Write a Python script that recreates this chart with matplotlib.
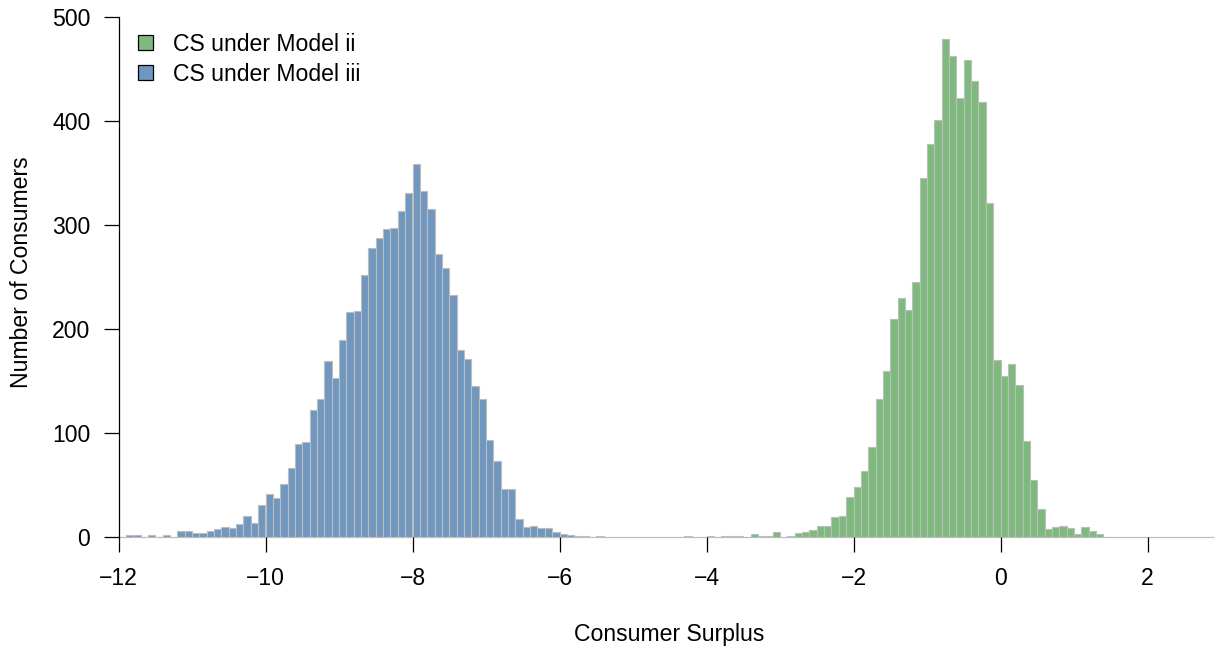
import numpy as np
import matplotlib.pyplot as plt
from matplotlib.patches import Patch

plt.rcParams['font.family'] = ['Liberation Sans', 'DejaVu Sans']
plt.rcParams['font.size'] = 16.6

# histogram grid: 0.1 wide bins from -12.0 to 2.9
bin_start = -12.0
bin_width = 0.1
n_bins = 149

# consumer counts per bin, model iii starts at -12.0
cs_model3_start = -12.0
cs_model3 = [0, 2, 2, 0, 2, 0, 2, 0, 6, 6, 4, 4, 6, 8, 10, 9, 12, 20, 13, 31,
             41, 37, 51, 66, 89, 91, 122, 133, 169, 153, 189, 216, 217, 252, 278, 287, 296, 297, 313, 330,
             358, 332, 315, 272, 258, 232, 180, 171, 145, 133, 93, 73, 46, 46, 17, 10, 11, 9, 9, 5,
             3, 2, 1, 1, 0, 1]

# model ii starts at -4.3
cs_model2_start = -4.3
cs_model2 = [1, 0, 0, 1, 0, 1, 1, 1, 0, 3, 1, 1, 5, 0, 1, 4, 5, 7, 11, 11,
             19, 20, 38, 48, 63, 86, 133, 159, 209, 230, 218, 245, 345, 378, 401, 478, 462, 422, 458, 438,
             418, 321, 170, 155, 166, 146, 92, 55, 27, 8, 10, 11, 9, 3, 10, 6, 3]

green = '#7eba7e'
blue = '#7097bf'
border = '#bdbdbd'


def full_counts(start, counts):
    out = np.zeros(n_bins)
    i0 = int(round((start - bin_start) / bin_width))
    out[i0:i0 + len(counts)] = counts
    return out


left_edges = bin_start + bin_width * np.arange(n_bins)

fig = plt.figure(figsize=(12.15, 6.5), dpi=100)
ax = fig.add_axes([118.5 / 1215, 0.1643, 1 - 118.5 / 1215, 0.8343])

ax.bar(left_edges, full_counts(cs_model3_start, cs_model3), width=bin_width, align='edge',
       color=blue, edgecolor=border, linewidth=0.8)
ax.bar(left_edges, full_counts(cs_model2_start, cs_model2), width=bin_width, align='edge',
       color=green, edgecolor=border, linewidth=0.8)

ax.set_xlim(-12, -12 + (1215 - 118.5) / 73.5)
ax.set_ylim(-6, 515)

for s in ['top', 'right']:
    ax.spines[s].set_visible(False)
ax.spines['bottom'].set_position(('data', 0))
ax.spines['bottom'].set_color('none')
ax.spines['left'].set_bounds(0, 500)
ax.spines['left'].set_linewidth(0.9)

ax.set_xticks(np.arange(-12, 3, 2))
ax.set_yticks(np.arange(0, 501, 100))
ax.tick_params(axis='x', length=10.8, width=0.9, pad=11)
ax.tick_params(axis='y', length=10.8, width=0.9, pad=9.5)

fig.text(22 / 1215, 1 - 272 / 650, 'Number of Consumers', rotation=90, ha='center', va='center')
fig.text(669.5 / 1215, 1 - 635 / 650, 'Consumer Surplus', ha='center', va='center')

handles = [Patch(facecolor=green, edgecolor='black', linewidth=0.9),
           Patch(facecolor=blue, edgecolor='black', linewidth=0.9)]
ax.legend(handles, ['CS under Model ii', 'CS under Model iii'], loc='upper left',
          bbox_to_anchor=(138.3 / 1215, 1 - 33 / 650), bbox_transform=fig.transFigure,
          frameon=False, handlelength=0.65, handleheight=0.62, handletextpad=0.85,
          borderaxespad=0, borderpad=0, labelspacing=0.3)

fig.savefig('out.png', dpi=100)
